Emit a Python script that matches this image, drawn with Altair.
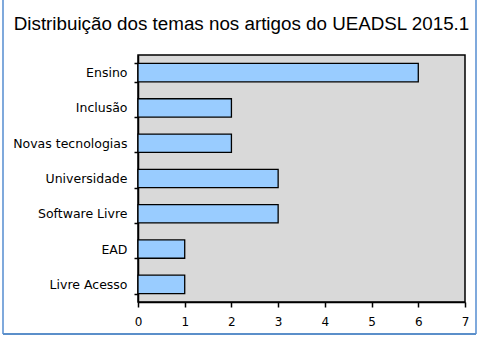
import altair as alt
import pandas as pd

categories = ["Ensino", "Inclusão ", "Novas tecnologias", "Universidade",
              "Software Livre", "EAD", "Livre Acesso"]
counts = [6, 2, 2, 3, 3, 1, 1]
x_ticks = [0, 1, 2, 3, 4, 5, 6, 7]

df = pd.DataFrame({"tema": categories, "n": counts})

bars = alt.Chart(df).mark_bar(
    fill="#99ccff", stroke="#000000", strokeWidth=1.3
).encode(
    y=alt.Y("tema:N", sort=categories,
            scale=alt.Scale(paddingInner=0.48, paddingOuter=0.24),
            axis=alt.Axis(title=None, tickBand="extent", tickSize=4,
                          labelPadding=7, domainColor="#000000",
                          tickColor="#000000", domainWidth=1.5, tickWidth=1.5,
                          labelFont="DejaVu Sans", labelFontSize=12.5,
                          labelColor="#000000")),
    x=alt.X("n:Q", scale=alt.Scale(domain=[0, 7], nice=False),
            axis=alt.Axis(title=None, values=x_ticks, tickSize=5,
                          labelPadding=9, domainColor="#000000",
                          tickColor="#000000", domainWidth=1.5, tickWidth=1.5,
                          labelFont="DejaVu Sans", labelFontSize=12,
                          labelColor="#000000", grid=False, labelFlush=False)),
)

border_color = "#7fa9dc"
left_line = alt.Chart(df).mark_rule(color=border_color, strokeWidth=2).encode(
    x=alt.value(-135), y=alt.value(-55), y2=alt.value(279))
right_line = alt.Chart(df).mark_rule(color=border_color, strokeWidth=2).encode(
    x=alt.value(338), y=alt.value(-55), y2=alt.value(279))
bottom_line = alt.Chart(df).mark_rule(color="#5b8fca", strokeWidth=2).encode(
    x=alt.value(-135), x2=alt.value(338), y=alt.value(279))

chart = alt.layer(bars, left_line, right_line, bottom_line).properties(
    width=327, height=247,
    background="#ffffff",
    title=alt.TitleParams(
        "Distribuição dos temas nos artigos do UEADSL 2015.1",
        font="Liberation Sans", fontSize=18.8, fontWeight="normal",
        color="#000000", anchor="middle", frame="group", dx=-60,
        baseline="alphabetic", offset=0, dy=50),
    padding={"left": 138, "top": 55, "right": 15, "bottom": 35},
    autosize=alt.AutoSizeParams(type="none"),
).configure_view(
    fill="#d9d9d9", stroke="#000000", strokeWidth=1.5
)

chart.save("out.html", embed_options={"renderer": "svg", "actions": False})
